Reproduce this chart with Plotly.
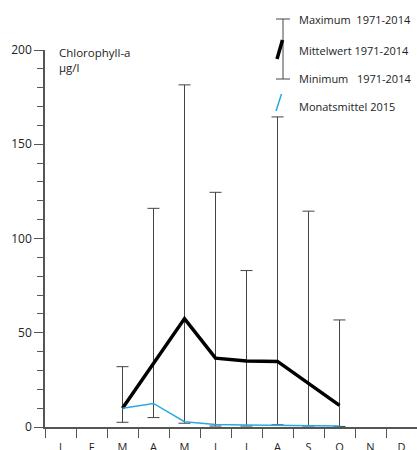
import plotly.graph_objects as go

month_labels = ["J", "F", "M", "A", "M", "J", "J", "A", "S", "O", "N", "D"]
month_nums = list(range(1, 13))
data_months = [3, 4, 5, 6, 7, 8, 9, 10]
mean_1971_2014 = [10, 33.5, 57.5, 36.5, 35, 34.8, 23, 11.5]
max_1971_2014 = [32, 116, 181.5, 124.5, 83, 164.5, 114.5, 56.8]
min_1971_2014 = [2.5, 5, 2, 0.5, 0.5, 1.2, 0.5, 0.3]
mean_2015 = [9.9, 12.5, 2.8, 1.3, 1.1, 0.9, 0.7, 0.5]
y_ticks = [0, 50, 100, 150, 200]

FONT = "Open Sans"
TXT = "#222222"
AX = "#555555"

fig = go.Figure()

fig.add_trace(go.Scatter(
    x=data_months, y=mean_1971_2014, mode="markers",
    marker=dict(size=1, color="rgba(0,0,0,0)"),
    error_y=dict(type="data", symmetric=False,
                 array=[mx - m for mx, m in zip(max_1971_2014, mean_1971_2014)],
                 arrayminus=[m - mn for mn, m in zip(min_1971_2014, mean_1971_2014)],
                 color="#444444", thickness=1, width=6),
    hoverinfo="skip", showlegend=False, cliponaxis=False))

fig.add_trace(go.Scatter(
    x=data_months, y=mean_1971_2014, mode="lines",
    line=dict(color="#000000", width=3.5), showlegend=False, cliponaxis=False))

fig.add_trace(go.Scatter(
    x=data_months, y=mean_2015, mode="lines",
    line=dict(color="#29a9e1", width=1.5), showlegend=False, cliponaxis=False))

L, R, T, B = 45, 0, 50, 23
W, H = 417, 450
pw, ph = W - L - R, H - T - B

def px(x):
    return (x - L) / pw

def py(y):
    return (H - B - y) / ph

shapes = [
    dict(type="line", xref="paper", yref="paper", x0=px(283), x1=px(283), y0=py(19), y1=py(79),
         line=dict(color="#444444", width=1)),
    dict(type="line", xref="paper", yref="paper", x0=px(276), x1=px(290), y0=py(19), y1=py(19),
         line=dict(color="#444444", width=1)),
    dict(type="line", xref="paper", yref="paper", x0=px(276), x1=px(290), y0=py(79), y1=py(79),
         line=dict(color="#444444", width=1)),
    dict(type="line", xref="paper", yref="paper", x0=px(277), x1=px(282.5), y0=py(59), y1=py(40),
         line=dict(color="#000000", width=3.5)),
    dict(type="line", xref="paper", yref="paper", x0=px(276), x1=px(281.5), y0=py(111), y1=py(94),
         line=dict(color="#29a9e1", width=1.5)),
]

legend_texts = [("Maximum  1971-2014", 20), ("Mittelwert 1971-2014", 50),
                ("Minimum   1971-2014", 79), ("Monatsmittel 2015", 106)]
annotations = []
for t, y in legend_texts:
    annotations.append(dict(text=t, xref="paper", yref="paper", x=px(297), y=py(y),
                            xanchor="left", yanchor="middle", showarrow=False,
                            font=dict(family=FONT, size=11, color=TXT)))
annotations.append(dict(text="Chlorophyll-a<br>µg/l", xref="paper", yref="paper",
                        x=px(57), y=py(43), xanchor="left", yanchor="top", align="left",
                        showarrow=False, font=dict(family=FONT, size=11.5, color=TXT)))

fig.update_layout(
    width=W, height=H, margin=dict(l=L, r=R, t=T, b=B, pad=0, autoexpand=False),
    plot_bgcolor="white", paper_bgcolor="white",
    font=dict(family=FONT, size=12, color=TXT),
    shapes=shapes, annotations=annotations,
    xaxis=dict(range=[0.5, 12.5], tickmode="array", tickvals=month_nums, ticktext=month_labels,
               ticks="outside", ticklen=9, tickcolor="rgba(0,0,0,0)",
               minor=dict(tickmode="linear", tick0=0.5, dtick=1, ticks="outside", ticklen=9,
                          tickcolor=AX, tickwidth=1),
               showline=True, linecolor=AX, linewidth=1.5, showgrid=False, zeroline=False,
               automargin=False,
               tickfont=dict(family=FONT, size=11, color=TXT), fixedrange=True),
    yaxis=dict(range=[0, 200], tickmode="array", tickvals=y_ticks,
               ticks="outside", ticklen=9, tickcolor=AX, tickwidth=1,
               minor=dict(tickmode="linear", tick0=0, dtick=10, ticks="outside", ticklen=6,
                          tickcolor=AX, tickwidth=1),
               showline=True, linecolor=AX, linewidth=1.5, showgrid=False, zeroline=False,
               automargin=False,
               tickfont=dict(family=FONT, size=12, color=TXT), fixedrange=True),
)

fig.write_html("out.html", config={"displayModeBar": False},
               post_script="document.body.style.margin='0';document.body.style.overflow='hidden';")
